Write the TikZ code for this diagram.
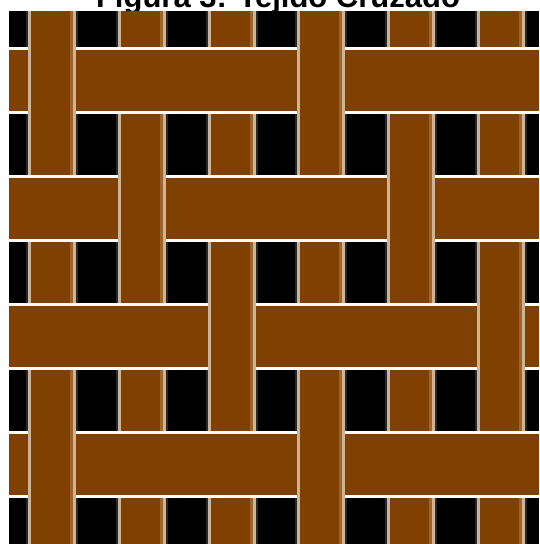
\documentclass[tikz,border=0pt]{standalone}
\usepackage{fontspec}
\setmainfont{Liberation Sans}
\definecolor{brn}{RGB}{128,64,0}
\definecolor{tanedge}{RGB}{205,180,150}
\definecolor{tanmid}{RGB}{158,100,45}
\definecolor{halo}{RGB}{40,40,40}
\newcommand\wvWarp[3]{%
  \fill[brn] ({#1-24},#2) rectangle ({#1+24},#3);
  \fill[tanedge] ({#1-24},#2) rectangle ({#1-21},#3);
  \fill[tanmid] ({#1+18},#2) rectangle ({#1+21},#3);
  \fill[tanedge] ({#1+21},#2) rectangle ({#1+24},#3);
}
\begin{document}
\begin{tikzpicture}[x=1pt,y=-1pt]
\useasboundingbox (0,0) rectangle (539,544);
\node[font=\bfseries\fontsize{31}{36}\selectfont, anchor=base, inner sep=0pt] (title) at (278,7.5) {Figura 3: Tejido Cruzado};
\fill[black] (9,11) rectangle (539,544);
% warps (under layer)
\foreach \k in {0,...,5} {
  \pgfmathsetmacro\c{52+89.8*\k}
  \fill[halo] ({\c-26},11) rectangle ({\c+26},544);
  \wvWarp{\c}{11}{544}
}
% wefts
\foreach \r in {0,...,3} {
  \pgfmathsetmacro\t{47+128*\r}
  \fill[white] (9,\t) rectangle (539,{\t+67});
  \fill[brn] (9,{\t+3}) rectangle (539,{\t+64});
}
% warps passing over the wefts
\foreach \r/\ka/\kb in {0/0/3,1/1/4,2/2/5,3/0/3} {
  \pgfmathsetmacro\t{47+128*\r}
  \foreach \k in {\ka,\kb} {
    \pgfmathsetmacro\c{52+89.8*\k}
    \wvWarp{\c}{\t}{\t+67}
  }
}
\end{tikzpicture}
\end{document}
